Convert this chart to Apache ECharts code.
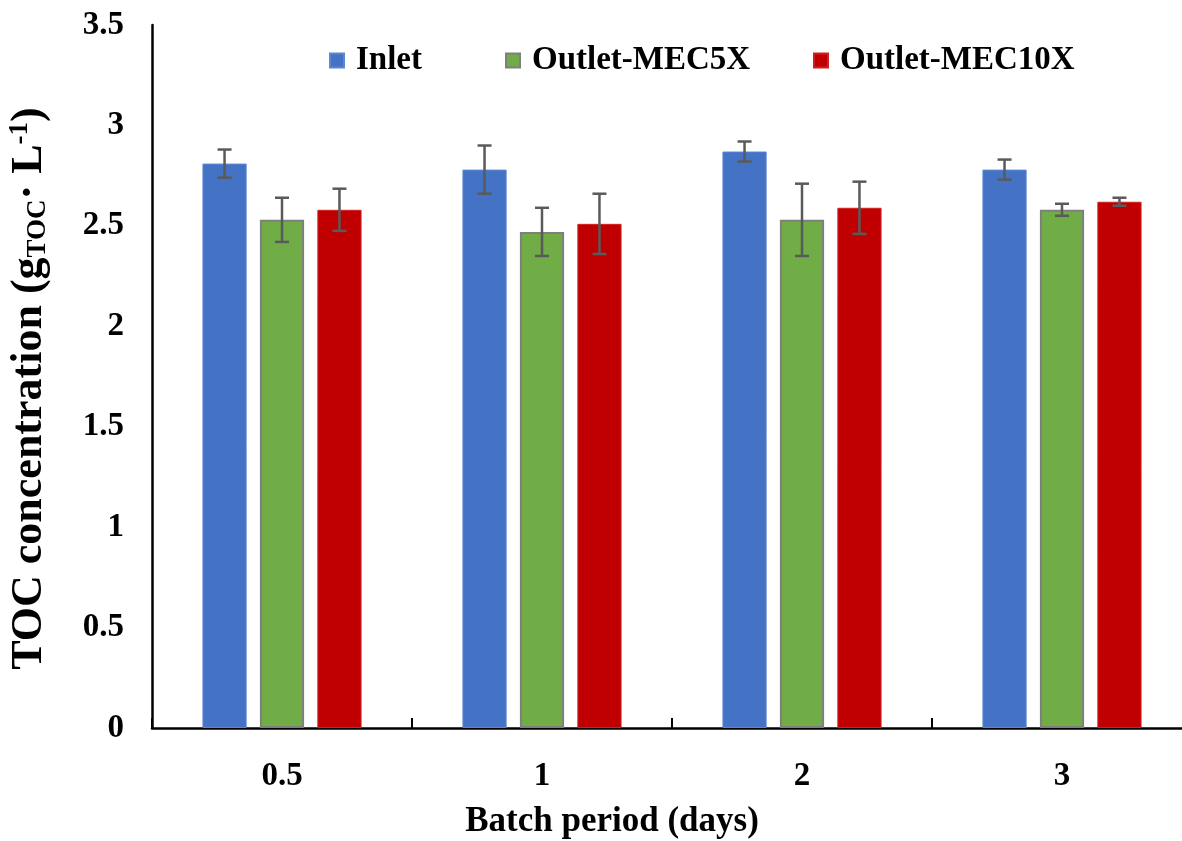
<!DOCTYPE html>
<html>
<head>
<meta charset="utf-8">
<script src="https://cdn.jsdelivr.net/npm/echarts@6/dist/echarts.min.js"></script>
<style>html,body{margin:0;padding:0;background:#fff}#c{width:1182px;height:841px}</style>
</head>
<body>
<div id="c"></div>
<script>
const categories = ['0.5', '1', '2', '3'];
const inlet = [2.81, 2.78, 2.87, 2.78];
const inletErr = [0.07, 0.12, 0.05, 0.05];
const mec5 = [2.53, 2.47, 2.53, 2.58];
const mec5Err = [0.11, 0.12, 0.18, 0.03];
const mec10 = [2.58, 2.51, 2.59, 2.62];
const mec10Err = [0.105, 0.15, 0.13, 0.02];
const yTicks = [0, 0.5, 1, 1.5, 2, 2.5, 3, 3.5];

const BAR_FRAC = 0.17, GAP_FRAC = 0.30;
const FONT = '"Liberation Serif", "Times New Roman", serif';

function errSeries(values, errs, slot) {
  return {
    type: 'custom',
    z: 10,
    silent: true,
    data: values.map((v, i) => [i, v, errs[i]]),
    renderItem: function (params, api) {
      const i = api.value(0), v = api.value(1), e = api.value(2);
      const band = api.size([1, 0])[0];
      const off = slot * band * BAR_FRAC * (1 + GAP_FRAC);
      const hi = api.coord([i, v + e]);
      const lo = api.coord([i, v - e]);
      const x = hi[0] + off;
      const cap = 7;
      const st = { stroke: '#5a5a5a', lineWidth: 2.5 };
      return {
        type: 'group',
        children: [
          { type: 'line', shape: { x1: x, y1: hi[1], x2: x, y2: lo[1] }, style: st },
          { type: 'line', shape: { x1: x - cap, y1: hi[1], x2: x + cap, y2: hi[1] }, style: st },
          { type: 'line', shape: { x1: x - cap, y1: lo[1], x2: x + cap, y2: lo[1] }, style: st }
        ]
      };
    }
  };
}

const legendText = { fontFamily: FONT, fontWeight: 'bold', fontSize: 33, color: '#000', padding: [0, 0, 0, 7] };
function legend(name, left) {
  return { data: [name], left: left, top: 39, icon: 'rect', itemWidth: 14, itemHeight: 14, textStyle: legendText, selectedMode: false };
}

const chart = echarts.init(document.getElementById('c'), null, { renderer: 'canvas' });
chart.setOption({
  animation: false,
  backgroundColor: '#fff',
  legend: [legend('Inlet', 324), legend('Outlet-MEC5X', 500), legend('Outlet-MEC10X', 808)],
  grid: { left: 152, right: -10, top: 25, bottom: 113, containLabel: false, outerBoundsMode: 'none' },
  xAxis: {
    type: 'category',
    data: categories,
    axisLine: { lineStyle: { color: '#000', width: 2.5 } },
    axisTick: { show: true, inside: true, length: 10, lineStyle: { color: '#000', width: 2 } },
    axisLabel: { fontFamily: FONT, fontWeight: 'bold', fontSize: 33, color: '#000', margin: 32 },
    name: 'Batch period (days)',
    nameLocation: 'middle',
    nameGap: 76,
    nameTextStyle: { fontFamily: FONT, fontWeight: 'bold', fontSize: 35, color: '#000', padding: [0, 120, 0, 0] }
  },
  yAxis: {
    type: 'value',
    min: yTicks[0],
    max: yTicks[yTicks.length - 1],
    interval: 0.5,
    splitLine: { show: false },
    axisLine: { show: true, lineStyle: { color: '#000', width: 2.5 } },
    axisTick: { show: false },
    axisLabel: { fontFamily: FONT, fontWeight: 'bold', fontSize: 33, color: '#000', margin: 28 },
    name: '{m|TOC concentration (g}{sub|TOC}{m|· L}{sup|-1}{m|)}',
    nameLocation: 'middle',
    nameRotate: 90,
    nameGap: 100,
    nameTextStyle: {
      padding: [0, 24, 0, 0],
      rich: {
        m: { fontFamily: FONT, fontWeight: 'bold', fontSize: 44, color: '#000' },
        sub: { fontFamily: FONT, fontWeight: 'bold', fontSize: 27, color: '#000', verticalAlign: 'bottom', padding: [18, 0, 0, 0] },
        sup: { fontFamily: FONT, fontWeight: 'bold', fontSize: 27, color: '#000', verticalAlign: 'top', padding: [0, 0, 18, 0] }
      }
    }
  },
  series: [
    { name: 'Inlet', type: 'bar', data: inlet, barWidth: (BAR_FRAC * 100) + '%', barGap: (GAP_FRAC * 100) + '%',
      itemStyle: { color: '#4472C4', borderColor: '#5b86d0', borderWidth: 1 } },
    { name: 'Outlet-MEC5X', type: 'bar', data: mec5, barWidth: (BAR_FRAC * 100) + '%', barGap: (GAP_FRAC * 100) + '%',
      itemStyle: { color: '#70AD47', borderColor: '#7f7f7f', borderWidth: 2 } },
    { name: 'Outlet-MEC10X', type: 'bar', data: mec10, barWidth: (BAR_FRAC * 100) + '%', barGap: (GAP_FRAC * 100) + '%',
      itemStyle: { color: '#C00000', borderColor: '#d02020', borderWidth: 1 } },
    errSeries(inlet, inletErr, -1),
    errSeries(mec5, mec5Err, 0),
    errSeries(mec10, mec10Err, 1)
  ]
});
</script>
</body>
</html>
